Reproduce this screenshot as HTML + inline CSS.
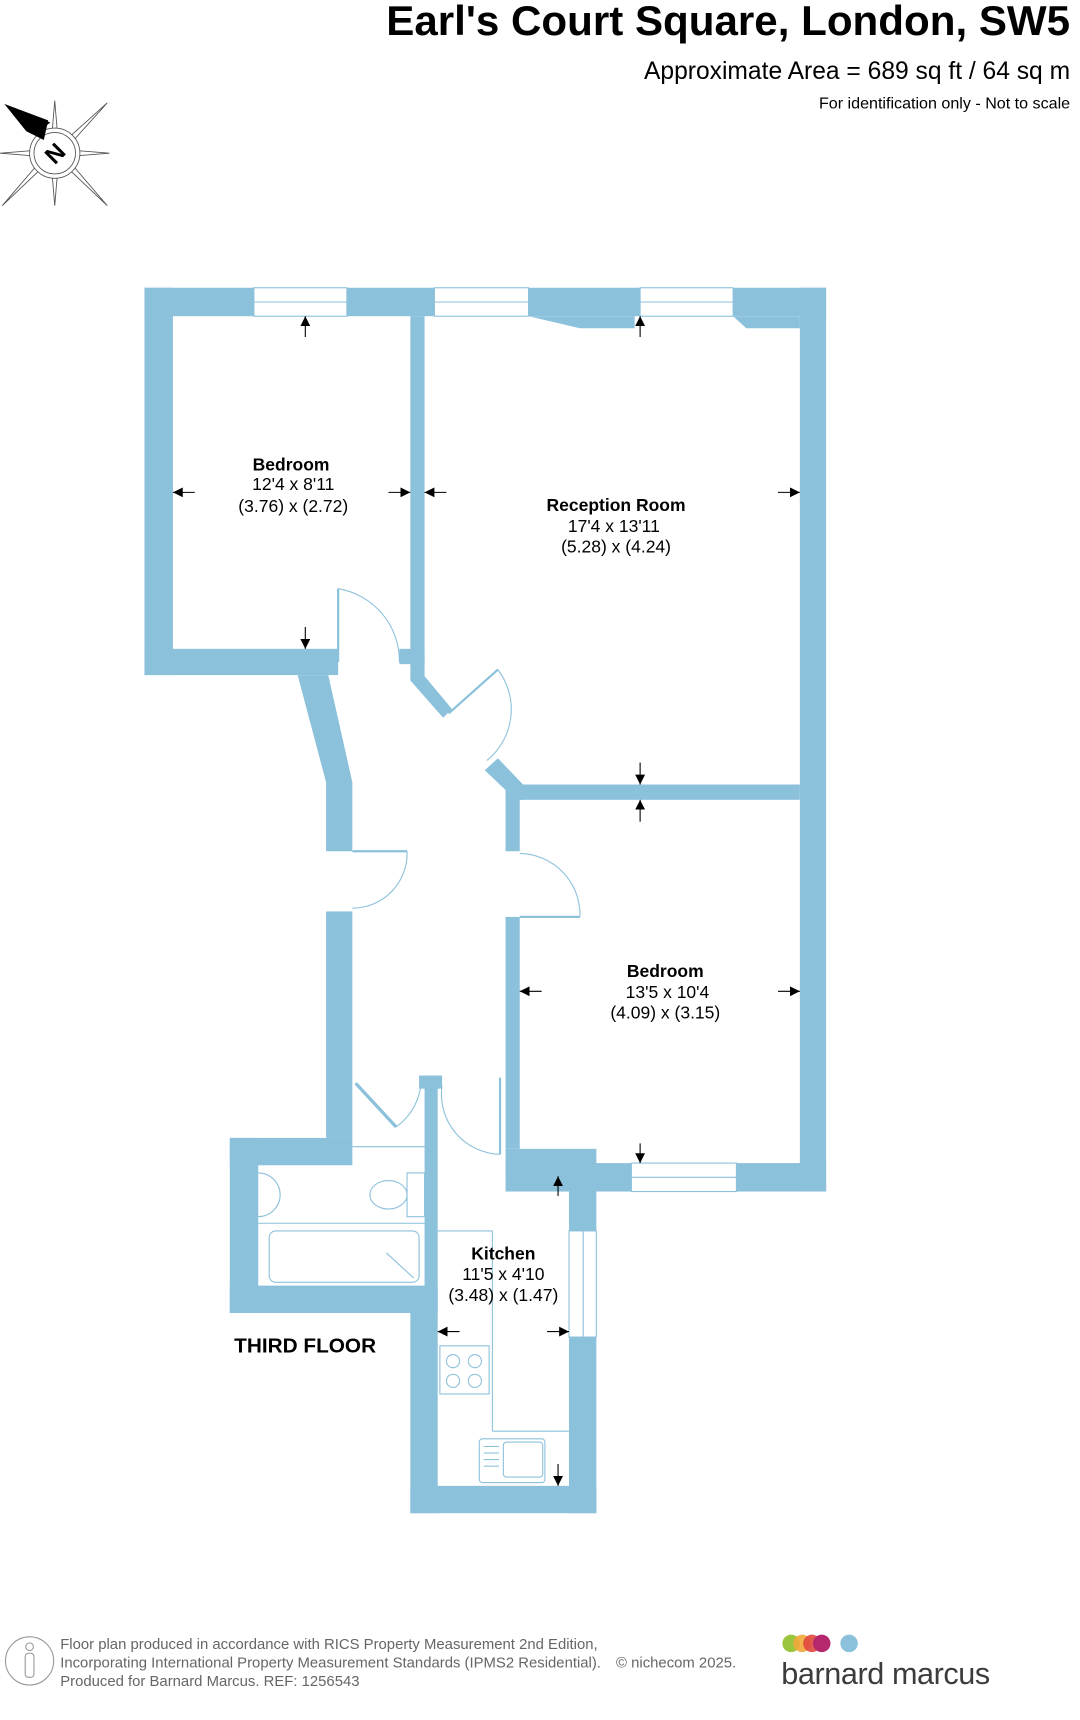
<!DOCTYPE html>
<html><head><meta charset="utf-8"><style>html,body{margin:0;padding:0;background:#fff}svg{display:block}</style></head>
<body>
<svg width="1080" height="1720" viewBox="0 0 987 1572" xmlns="http://www.w3.org/2000/svg" font-family="Liberation Sans, Arial, sans-serif">
<defs>
<marker id="ah" viewBox="0 0 10 10" refX="10" refY="5" markerWidth="9" markerHeight="9" markerUnits="userSpaceOnUse" orient="auto"><path d="M0,0L10,5L0,10z" fill="#000"/></marker>
</defs>
<!-- Header -->
<text x="978" y="32" text-anchor="end" font-size="38.5" font-weight="bold" fill="#000">Earl's Court Square, London, SW5</text>
<text x="978" y="72" text-anchor="end" font-size="22.5" fill="#000">Approximate Area = 689 sq ft / 64 sq m</text>
<text x="978" y="99" text-anchor="end" font-size="14.7" fill="#000">For identification only - Not to scale</text>
<!-- Compass -->
<g stroke="#555" stroke-width="0.8" fill="#fff">
<polygon points="98,94 58,130 62,134"/>
<polygon points="98,188 62,146 58,150"/>
<polygon points="2,188 42,150 38,146"/>
<polygon points="50,92 46,140 54,140"/>
<polygon points="50,188 46,140 54,140"/>
<polygon points="0,140 50,136 50,144"/>
<polygon points="100,140 50,136 50,144"/>
<circle cx="50" cy="140" r="23"/>
<circle cx="50" cy="140" r="19"/>
</g>
<polygon points="4,95 44,110 40,128 24,120" fill="#000"/>
<polygon points="4,95 46,112 38,118" fill="#000"/>
<text x="50" y="148" text-anchor="middle" font-size="22" font-weight="bold" transform="rotate(-45 50 140)">N</text>
<!-- Walls -->
<g fill="#8cc1dc">
<rect x="132" y="263" width="623" height="26"/>
<polygon points="483,289 530,300 580,300 580,289"/>
<polygon points="670,289 682,300 731,300 731,289"/>
<rect x="132" y="263" width="26" height="354"/>
<rect x="132" y="593" width="177" height="24"/>
<rect x="375" y="289" width="13" height="318"/>
<rect x="365" y="593" width="23" height="14"/>
<polygon points="272,617 300,617 322,715 322,778 298,778 298,715"/>
<rect x="298" y="833" width="24" height="207"/>
<rect x="731" y="263" width="24" height="826"/>
<rect x="470" y="717" width="261" height="14"/>
<polygon points="375,600 388,600 388,618 413,648 405,656 375,622"/>
<polygon points="443,704 455,693 478,717 478,731 462,731 462,722"/>
<rect x="462" y="717" width="13" height="61"/>
<rect x="462" y="838" width="13" height="212"/>
<rect x="462" y="1050" width="83" height="25"/>
<rect x="462" y="1063" width="293" height="26"/>
<rect x="520" y="1063" width="25" height="320"/>
<rect x="388" y="983" width="12" height="217"/>
<rect x="383" y="983" width="21" height="12"/>
<rect x="375" y="1200" width="25" height="183"/>
<rect x="375" y="1358" width="170" height="25"/>
<rect x="210" y="1040" width="112" height="25"/>
<rect x="210" y="1040" width="26" height="160"/>
<rect x="210" y="1175" width="190" height="25"/>
</g>
<!-- Windows -->
<g fill="#fff" stroke="#8cc1dc" stroke-width="1">
<rect x="232" y="263" width="85" height="26"/><line x1="232" y1="276" x2="317" y2="276"/>
<rect x="397" y="263" width="86" height="26"/><line x1="397" y1="276" x2="483" y2="276"/>
<rect x="585" y="263" width="85" height="26"/><line x1="585" y1="276" x2="670" y2="276"/>
<rect x="577" y="1063" width="96" height="26"/><line x1="577" y1="1076" x2="673" y2="1076"/>
<rect x="520" y="1125" width="25" height="97"/><line x1="533" y1="1125" x2="533" y2="1222"/>
</g>
<!-- Doors -->
<g fill="none" stroke="#8cc1dc" stroke-width="1">
<line x1="309" y1="538" x2="309" y2="605" stroke-width="2"/>
<path d="M309,538 A67,67 0 0 1 365,605"/>
<line x1="410" y1="652" x2="455" y2="612" stroke-width="2"/>
<path d="M455,612 A60,60 0 0 1 445,695"/>
<line x1="322" y1="778" x2="372" y2="778" stroke-width="2"/>
<path d="M372,778 A50,50 0 0 1 322,830"/>
<line x1="475" y1="838" x2="530" y2="838" stroke-width="2"/>
<path d="M475,780 A56,56 0 0 1 530,838"/>
<line x1="325" y1="990" x2="362" y2="1030" stroke-width="3"/>
<path d="M362,1030 A55,55 0 0 0 385,988"/>
<line x1="457" y1="985" x2="457" y2="1055" stroke-width="2"/>
<path d="M404,992 A55,55 0 0 0 457,1055"/>
</g>
<!-- Fixtures -->
<g fill="none" stroke="#8cc1dc" stroke-width="1">
<line x1="322" y1="1048" x2="388" y2="1048"/>
<line x1="236" y1="1118" x2="388" y2="1118"/>
<path d="M236,1072 A20,20 0 0 1 236,1112"/>
<ellipse cx="355" cy="1092" rx="17" ry="13"/>
<rect x="372" y="1072" width="16" height="40"/>
<rect x="246" y="1125" width="137" height="47" rx="6"/>
<line x1="353" y1="1145" x2="378" y2="1168"/>
<line x1="400" y1="1125" x2="450" y2="1125"/>
<line x1="450" y1="1125" x2="450" y2="1308"/>
<line x1="450" y1="1308" x2="520" y2="1308"/>
<rect x="402" y="1230" width="45" height="44"/>
<circle cx="414" cy="1244" r="6"/><circle cx="434" cy="1244" r="6"/>
<circle cx="414" cy="1262" r="6"/><circle cx="434" cy="1262" r="6"/>
<rect x="438" y="1315" width="60" height="40" rx="3"/>
<rect x="460" y="1318" width="36" height="32" rx="3"/>
<line x1="442" y1="1322" x2="456" y2="1322"/><line x1="442" y1="1328" x2="456" y2="1328"/><line x1="442" y1="1334" x2="456" y2="1334"/><line x1="442" y1="1340" x2="456" y2="1340"/>
</g>
<!-- Dimension arrows -->
<g stroke="#000" stroke-width="1" marker-end="url(#ah)">
<line x1="279" y1="308" x2="279" y2="289"/>
<line x1="279" y1="573" x2="279" y2="593"/>
<line x1="178" y1="450" x2="158" y2="450"/>
<line x1="355" y1="450" x2="375" y2="450"/>
<line x1="408" y1="450" x2="388" y2="450"/>
<line x1="711" y1="450" x2="731" y2="450"/>
<line x1="585" y1="308" x2="585" y2="289"/>
<line x1="585" y1="697" x2="585" y2="717"/>
<line x1="585" y1="751" x2="585" y2="731"/>
<line x1="585" y1="1045" x2="585" y2="1063"/>
<line x1="495" y1="906" x2="475" y2="906"/>
<line x1="711" y1="906" x2="731" y2="906"/>
<line x1="510" y1="1093" x2="510" y2="1075"/>
<line x1="510" y1="1338" x2="510" y2="1358"/>
<line x1="420" y1="1217" x2="400" y2="1217"/>
<line x1="500" y1="1217" x2="520" y2="1217"/>
</g>
<!-- Room labels -->
<g text-anchor="middle" font-size="16" fill="#000">
<text x="266" y="430" font-weight="bold">Bedroom</text>
<text x="268" y="448">12'4 x 8'11</text>
<text x="268" y="468">(3.76) x (2.72)</text>
<text x="563" y="467" font-weight="bold">Reception Room</text>
<text x="561" y="486">17'4 x 13'11</text>
<text x="563" y="505">(5.28) x (4.24)</text>
<text x="608" y="893" font-weight="bold">Bedroom</text>
<text x="610" y="912">13'5 x 10'4</text>
<text x="608" y="931">(4.09) x (3.15)</text>
<text x="460" y="1151" font-weight="bold">Kitchen</text>
<text x="460" y="1170">11'5 x 4'10</text>
<text x="460" y="1189">(3.48) x (1.47)</text>
</g>
<text x="214" y="1236" font-size="19" font-weight="bold">THIRD FLOOR</text>
<!-- Footer -->
<circle cx="27" cy="1518" r="22" fill="none" stroke="#999" stroke-width="1"/>
<circle cx="27" cy="1505" r="3.5" fill="none" stroke="#999"/>
<rect x="23" y="1511" width="8" height="22" rx="3" fill="none" stroke="#999"/>
<g font-size="13.6" fill="#666">
<text x="55" y="1507">Floor plan produced in accordance with RICS Property Measurement 2nd Edition,</text>
<text x="55" y="1524">Incorporating International Property Measurement Standards (IPMS2 Residential).</text>
<text x="55" y="1541">Produced for Barnard Marcus.   REF:  1256543</text>
<text x="563" y="1524">© nichecom 2025.</text>
</g>
<circle cx="723" cy="1502" r="8" fill="#9bc53d"/>
<circle cx="733" cy="1502" r="8" fill="#f2a93b" opacity="0.9"/>
<circle cx="742" cy="1502" r="8" fill="#e0483d" opacity="0.9"/>
<circle cx="751" cy="1502" r="8" fill="#b5286e"/>
<circle cx="776" cy="1502" r="8" fill="#8cc1dc"/>
<text x="714" y="1539" font-size="28" fill="#3c3c3c" textLength="191">barnard marcus</text>
</svg>
</body></html>
